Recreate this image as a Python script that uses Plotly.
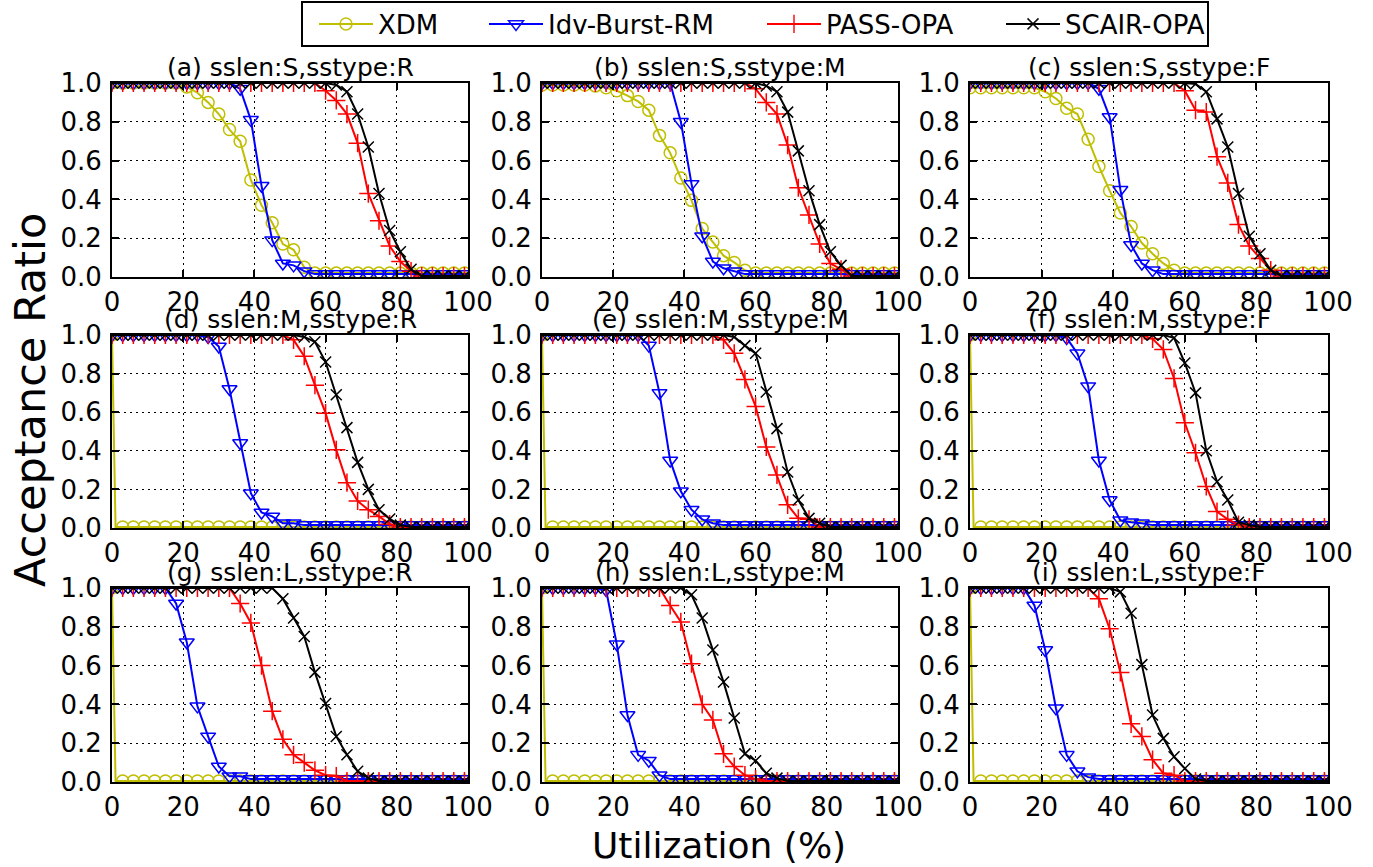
import plotly.graph_objects as go

W, H = 1373, 867
FONT = "DejaVu Sans"

# Utilization sample points (%)
X = [0, 1, 3, 6, 9, 12, 15, 18, 21, 24, 27, 30, 33, 36, 39, 42, 45, 48, 51, 54,
     57, 60, 63, 66, 69, 72, 75, 78, 81, 84, 87, 90, 93, 96, 99, 100]

TITLES = ["(a) sslen:S,sstype:R", "(b) sslen:S,sstype:M", "(c) sslen:S,sstype:F",
          "(d) sslen:M,sstype:R", "(e) sslen:M,sstype:M", "(f) sslen:M,sstype:F",
          "(g) sslen:L,sstype:R", "(h) sslen:L,sstype:M", "(i) sslen:L,sstype:F"]

NAMES = ["XDM", "Idv-Burst-RM", "PASS-OPA", "SCAIR-OPA"]
XTICKS = [0, 20, 40, 60, 80, 100]
YTICKS = [0.0, 0.2, 0.4, 0.6, 0.8, 1.0]

# ---- acceptance ratios (one value per X) ----
# (a) sslen:S, sstype:R
xdm_a = [1.0]*8 + [0.98, 0.95, 0.90, 0.84, 0.76, 0.70, 0.50, 0.37, 0.28, 0.17, 0.14, 0.05] + [0.02]*16
idv_a = [1.0]*13 + [0.97, 0.81, 0.47, 0.19, 0.07, 0.06, 0.03] + [0.015]*16
pass_a = [1.0]*21 + [0.96, 0.91, 0.84, 0.69, 0.43, 0.29, 0.16, 0.08, 0.03] + [0.005]*6
scair_a = [1.0]*22 + [0.99, 0.955, 0.84, 0.67, 0.43, 0.24, 0.13, 0.04] + [0.005]*6
# (b) sslen:S, sstype:M
xdm_b = [0.99]*6 + [0.985, 0.975, 0.96, 0.935, 0.905, 0.86, 0.73, 0.64, 0.51, 0.395, 0.25,
                    0.18, 0.11, 0.075, 0.035] + [0.02]*15
idv_b = [1.0]*14 + [0.80, 0.48, 0.21, 0.08, 0.045, 0.03] + [0.015]*16
pass_b = [1.0]*21 + [0.97, 0.90, 0.84, 0.68, 0.46, 0.32, 0.17, 0.07, 0.04] + [0.005]*6
scair_b = [1.0]*22 + [0.985, 0.955, 0.85, 0.65, 0.445, 0.27, 0.13, 0.06] + [0.005]*6
# (c) sslen:S, sstype:F
xdm_c = [0.975]*8 + [0.955, 0.92, 0.87, 0.84, 0.71, 0.57, 0.445, 0.33, 0.26, 0.175, 0.12,
                     0.07, 0.035] + [0.02]*15
idv_c = [1.0]*13 + [0.97, 0.825, 0.45, 0.165, 0.07, 0.035] + [0.015]*17
pass_c = [1.0]*21 + [0.96, 0.86, 0.85, 0.62, 0.485, 0.27, 0.16, 0.095, 0.035] + [0.005]*6
scair_c = [1.0]*22 + [0.995, 0.955, 0.815, 0.67, 0.43, 0.21, 0.12, 0.035] + [0.005]*6
# (d) sslen:M, sstype:R
xdm_d = [1.0] + [0.005]*35
idv_d = [1.0]*10 + [0.99, 0.94, 0.72, 0.44, 0.18, 0.08, 0.06, 0.025, 0.025] + [0.015]*17
pass_d = [1.0]*18 + [0.975, 0.89, 0.74, 0.595, 0.405, 0.235, 0.14, 0.095, 0.06, 0.02] + [0.005]*8
scair_d = [1.0]*19 + [0.99, 0.965, 0.86, 0.69, 0.52, 0.34, 0.20, 0.095, 0.047, 0.015] + [0.005]*7
# (e) sslen:M, sstype:M
xdm_e = [1.0] + [0.005]*35
idv_e = [1.0]*11 + [0.945, 0.70, 0.35, 0.19, 0.095, 0.045, 0.025] + [0.015]*18
pass_e = [1.0]*18 + [0.975, 0.905, 0.77, 0.63, 0.42, 0.275, 0.12, 0.05, 0.045] + [0.005]*9
scair_e = [1.0]*19 + [0.99, 0.945, 0.905, 0.705, 0.515, 0.29, 0.145, 0.05, 0.025] + [0.005]*8
# (f) sslen:M, sstype:F
xdm_f = [1.0] + [0.005]*35
idv_f = [1.0]*10 + [0.985, 0.905, 0.735, 0.35, 0.145, 0.04, 0.03, 0.025] + [0.015]*18
pass_f = [1.0]*18 + [0.98, 0.925, 0.775, 0.545, 0.39, 0.215, 0.085, 0.045, 0.017] + [0.005]*9
scair_f = [1.0]*20 + [0.985, 0.855, 0.70, 0.40, 0.24, 0.145, 0.03, 0.015] + [0.005]*8
# (g) sslen:L, sstype:R
xdm_g = [1.0] + [0.005]*35
idv_g = [1.0]*7 + [0.92, 0.72, 0.39, 0.235, 0.08, 0.03, 0.03] + [0.015]*22
pass_g = [1.0]*13 + [0.92, 0.82, 0.60, 0.365, 0.22, 0.14, 0.10, 0.06, 0.035, 0.03] + [0.005]*13
scair_g = [1.0]*17 + [0.945, 0.845, 0.75, 0.565, 0.405, 0.235, 0.14, 0.055, 0.02] + [0.005]*10
# (h) sslen:L, sstype:M
xdm_h = [1.0] + [0.005]*35
idv_h = [1.0]*7 + [0.99, 0.71, 0.345, 0.14, 0.11, 0.035] + [0.015]*23
pass_h = [1.0]*13 + [0.91, 0.825, 0.61, 0.40, 0.32, 0.145, 0.08, 0.035, 0.015] + [0.005]*14
scair_h = [1.0]*15 + [0.965, 0.845, 0.68, 0.515, 0.33, 0.145, 0.11, 0.045, 0.02] + [0.005]*12
# (i) sslen:L, sstype:F
xdm_i = [1.0] + [0.005]*35
idv_i = [1.0]*7 + [0.91, 0.68, 0.38, 0.14, 0.055, 0.025] + [0.015]*23
pass_i = [1.0]*13 + [0.945, 0.79, 0.565, 0.30, 0.235, 0.115, 0.045, 0.035] + [0.005]*15
scair_i = [1.0]*15 + [0.98, 0.87, 0.605, 0.345, 0.225, 0.13, 0.07, 0.015] + [0.005]*13

PANELS = [
    (xdm_a, idv_a, pass_a, scair_a), (xdm_b, idv_b, pass_b, scair_b), (xdm_c, idv_c, pass_c, scair_c),
    (xdm_d, idv_d, pass_d, scair_d), (xdm_e, idv_e, pass_e, scair_e), (xdm_f, idv_f, pass_f, scair_f),
    (xdm_g, idv_g, pass_g, scair_g), (xdm_h, idv_h, pass_h, scair_h), (xdm_i, idv_i, pass_i, scair_i),
]
for p in PANELS:
    for s in p:
        assert len(s) == len(X), len(s)

# ---- styling ----
COLORS = ["#bfbf00", "#0000ff", "#ff0000", "#000000"]
SYMBOLS = ["circle-open", "triangle-down-open", "cross-thin-open", "x-thin-open"]
MSIZES = [12, 13, 13, 11]
# markers only at every third utilisation step (as in the original)
MOPAC = [1 if (x % 3 == 0 and x != 100) else 0 for x in X]

COLS_PX = [(112, 468), (542, 898), (970, 1328)]
ROWS_PX = [(83, 277), (335, 528), (588, 782)]

fig = go.Figure()
layout = dict(width=W, height=H, margin=dict(l=0, r=0, t=0, b=0, autoexpand=False),
              paper_bgcolor="white", plot_bgcolor="white",
              font=dict(family=FONT, size=26, color="black"),
              showlegend=True)

annotations = []
legend_keys = ["legend", "legend2", "legend3", "legend4"]
legend_x_px = [314, 484, 762, 1001]

for k, series in enumerate(PANELS):
    r, c = divmod(k, 3)
    x0, x1 = COLS_PX[c]
    yt, yb = ROWS_PX[r]
    xd = [x0 / W, x1 / W]
    yd = [1 - yb / H, 1 - yt / H]
    suffix = "" if k == 0 else str(k + 1)
    axcommon = dict(showline=True, linecolor="black", linewidth=2, mirror="ticks",
                    ticks="inside", ticklen=7, tickwidth=1.5, tickcolor="black",
                    showgrid=True, gridcolor="black", gridwidth=1, griddash="2px,4px",
                    zeroline=False, automargin=False,
                    tickfont=dict(family=FONT, size=26, color="black"))
    layout["xaxis" + suffix] = dict(axcommon, domain=xd, range=[0, 100], tickvals=XTICKS,
                                    anchor="y" + suffix, ticklabelstandoff=1)
    layout["yaxis" + suffix] = dict(axcommon, domain=yd, range=[0, 1], tickvals=YTICKS,
                                    tickformat=".1f", anchor="x" + suffix, ticklabelstandoff=3)
    for j, ys in enumerate(series):
        fig.add_trace(go.Scatter(
            x=X, y=ys, mode="lines+markers", name=NAMES[j],
            xaxis="x" + suffix, yaxis="y" + suffix,
            line=dict(color=COLORS[j], width=2),
            marker=dict(symbol=SYMBOLS[j], size=MSIZES[j], color=COLORS[j], opacity=MOPAC,
                        line=dict(color=COLORS[j], width=1.5)),
            showlegend=(k == 0), legend=legend_keys[j],
            cliponaxis=True,
        ))
    annotations.append(dict(text=TITLES[k], x=(xd[0] + xd[1]) / 2, y=yd[1], xref="paper", yref="paper",
                            xanchor="center", yanchor="bottom", showarrow=False, yshift=-1,
                            font=dict(family=FONT, size=25, color="black")))

for j, key in enumerate(legend_keys):
    layout[key] = dict(x=legend_x_px[j] / W, y=1 - 24 / H, xanchor="left", yanchor="middle",
                       orientation="h", bgcolor="rgba(0,0,0,0)", borderwidth=0,
                       itemwidth=54, font=dict(family=FONT, size=26, color="black"))

annotations.append(dict(text="Utilization (%)", x=719 / W, y=1 - 845 / H, xref="paper", yref="paper",
                        xanchor="center", yanchor="middle", showarrow=False,
                        font=dict(family=FONT, size=36, color="black")))
annotations.append(dict(text="Acceptance Ratio", x=30 / W, y=1 - 400 / H, xref="paper", yref="paper",
                        xanchor="center", yanchor="middle", showarrow=False, textangle=-90,
                        font=dict(family=FONT, size=43, color="black")))
layout["annotations"] = annotations
layout["shapes"] = [dict(type="rect", xref="paper", yref="paper", x0=302 / W, x1=1208 / W,
                         y0=1 - 46 / H, y1=1 - 2 / H, line=dict(color="black", width=2))]

fig.update_layout(**layout)
# the page's default 8px body margin would shift the fixed-size figure; remove it
fig.write_html("out.html", config={"displayModeBar": False},
               post_script="document.body.style.margin='0';document.body.style.overflow='hidden';")
